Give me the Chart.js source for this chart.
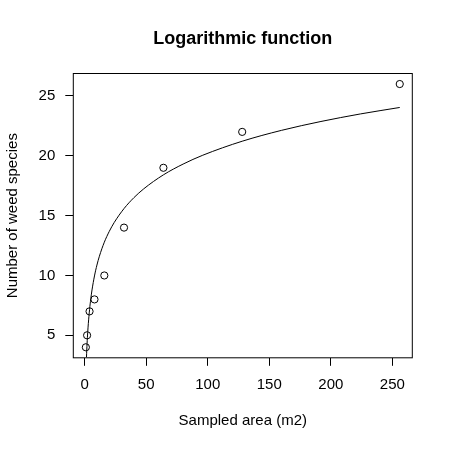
<!DOCTYPE html>
<html>
<head>
<meta charset="utf-8">
<script src="https://cdn.jsdelivr.net/npm/chart.js@4"></script>
<style>
  html, body { margin: 0; padding: 0; background: #fff; }
  #wrap { width: 450px; height: 450px; }
</style>
</head>
<body>
<div id="wrap"><canvas id="chart" width="450" height="450"></canvas></div>
<script>
// observed data
const areas = [1, 2, 4, 8, 16, 32, 64, 128, 256];
const species = [4, 5, 7, 8, 10, 14, 19, 22, 26];

// fitted log curve
const curveX = [1.5, 2, 2.5, 3, 4, 5, 6, 8, 10, 12, 16, 20, 24, 32, 40, 48, 64, 80, 96, 128, 160, 192, 224, 256];
const curveY = [3.16, 4.33, 5.23, 5.97, 7.14, 8.05, 8.79, 9.96, 10.87, 11.61, 12.78, 13.68, 14.42, 15.59, 16.5, 17.24, 18.41, 19.31, 20.05, 21.22, 22.13, 22.87, 23.5, 24.04];

const xTicks = [0, 50, 100, 150, 200, 250];
const yTicks = [5, 10, 15, 20, 25];

const mainTitle = 'Logarithmic function';
const xTitle = 'Sampled area (m2)';
const yTitle = 'Number of weed species';

const FONT = "'Liberation Sans', Arial, Helvetica, sans-serif";

// R-like box around the plot region + centred main title
const boxPlugin = {
  id: 'box',
  afterDraw(chart) {
    const {ctx, chartArea: a} = chart;
    ctx.save();
    ctx.strokeStyle = '#000';
    ctx.lineWidth = 1;
    ctx.strokeRect(a.left, a.top, a.right - a.left, a.bottom - a.top);
    ctx.fillStyle = '#000';
    ctx.font = 'bold 18px ' + FONT;
    ctx.textAlign = 'center';
    ctx.textBaseline = 'middle';
    ctx.fillText(mainTitle, (a.left + a.right) / 2, 39);
    ctx.restore();
  }
};

new Chart(document.getElementById('chart'), {
  type: 'scatter',
  data: {
    datasets: [{
      label: 'curve',
      data: curveX.map((x, i) => ({x: x, y: curveY[i]})),
      showLine: true,
      borderColor: '#000',
      borderWidth: 1,
      pointRadius: 0,
      cubicInterpolationMode: 'monotone'
    }, {
      label: 'observed',
      data: areas.map((x, i) => ({x: x, y: species[i]})),
      pointRadius: 3.6,
      pointBorderWidth: 1,
      borderColor: '#000',
      backgroundColor: 'rgba(0,0,0,0)'
    }]
  },
  options: {
    responsive: false,
    animation: false,
    layout: { padding: { left: 0, top: 73.5, right: 37.7, bottom: 0 } },
    plugins: { legend: { display: false }, tooltip: { enabled: false } },
    scales: {
      x: {
        type: 'linear',
        min: -9.2, max: 266.2,
        afterFit(s) { s.height = 92.2; },
        afterBuildTicks(s) { s.ticks = xTicks.map(v => ({value: v})); },
        border: { display: false },
        grid: { drawOnChartArea: false, drawTicks: true, tickLength: 8, color: '#000' },
        ticks: { padding: 10, color: '#000', font: { family: FONT, size: 15 } },
        title: { display: true, text: xTitle, color: '#000', padding: { top: 0, bottom: 20 }, font: { family: FONT, size: 15 } }
      },
      y: {
        type: 'linear',
        min: 3.12, max: 26.88,
        afterFit(s) { s.width = 73.3; },
        afterBuildTicks(s) { s.ticks = yTicks.map(v => ({value: v})); },
        border: { display: false },
        grid: { drawOnChartArea: false, drawTicks: true, tickLength: 8, color: '#000' },
        ticks: { padding: 10, color: '#000', font: { family: FONT, size: 15 } },
        title: { display: true, text: yTitle, color: '#000', padding: { top: 4, bottom: 0 }, font: { family: FONT, size: 15 } }
      }
    }
  },
  plugins: [boxPlugin]
});
</script>
</body>
</html>
